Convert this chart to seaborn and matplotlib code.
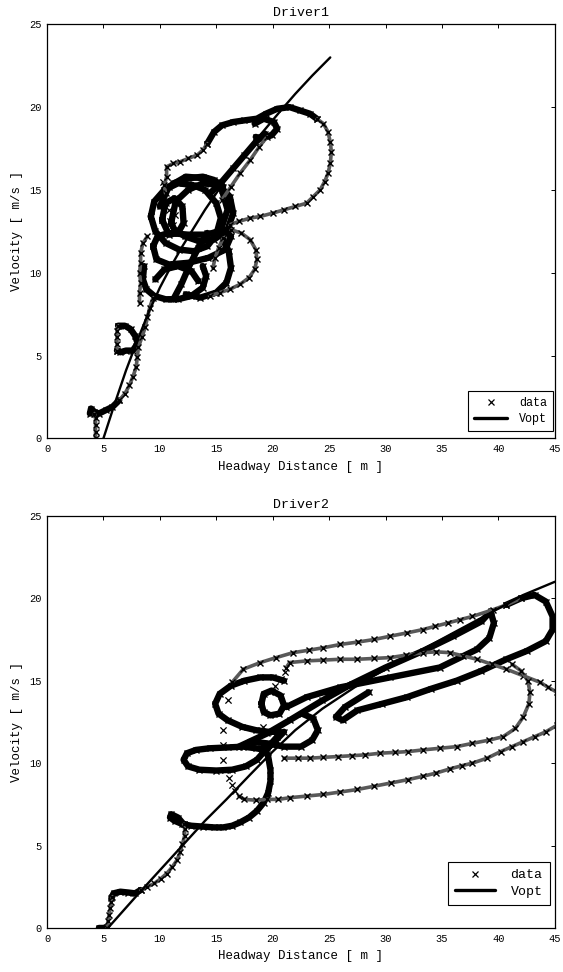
import matplotlib
matplotlib.use('Agg')
import matplotlib.pyplot as plt
import seaborn as sns
from matplotlib.lines import Line2D

# ---- Driver1 -------------------------------------------------------------
d1_vopt_x = [5.0, 6.0, 7.0, 8.0, 9.0, 10.0, 11.0, 12.0, 13.0, 14.0, 15.0, 16.0, 17.0, 18.0, 19.0, 20.6, 22.0, 23.5, 25.1]
d1_vopt_y = [0.0, 2.1, 4.1, 5.9, 7.6, 9.1, 10.4, 11.6, 12.7, 13.8, 14.8, 15.8, 16.7, 17.6, 18.4, 19.7, 20.8, 21.9, 23.0]

# slow parts of the trajectory (markers pile up into a black band)
d1_dense = [
    [(3.8, 1.5), (3.9, 1.8), (4.2, 1.6), (4.6, 1.5), (5.2, 1.7), (5.8, 1.9), (6.4, 2.3)],
    [(7.9, 5.6), (7.6, 5.3), (7.0, 5.3), (6.5, 5.2), (6.2, 5.3)],
    [(6.3, 6.8), (6.9, 6.8), (7.4, 6.6), (7.8, 6.2), (8.0, 5.8)],
    [(8.6, 10.4), (8.5, 9.6), (8.8, 9.0), (9.5, 8.6), (10.5, 8.4), (11.6, 8.4), (12.8, 8.6), (13.8, 9.1), (14.1, 9.8), (13.8, 10.4)],
    [(12.3, 8.7), (13.6, 8.5), (15.0, 8.8), (15.9, 9.4), (16.3, 10.3), (16.1, 11.3), (15.6, 12.0)],
    [(11.2, 8.4), (11.9, 9.3), (12.6, 10.4), (13.4, 11.5), (14.2, 12.4)],
    [(9.4, 11.6), (9.8, 12.2), (10.8, 12.4), (12.5, 12.3), (14.2, 12.3), (15.6, 12.6), (16.3, 12.2), (15.8, 11.4),
     (14.3, 10.9), (12.5, 10.6), (10.8, 10.5), (9.7, 10.8), (9.4, 11.6)],
    [(9.2, 13.4), (9.5, 14.3), (10.4, 15.0), (11.6, 15.4), (12.9, 15.3), (14.0, 15.0), (15.0, 14.2), (15.4, 13.3),
     (15.0, 12.3), (14.2, 11.6), (13.0, 11.3), (11.7, 11.4), (10.5, 11.8), (9.6, 12.5), (9.2, 13.4)],
    [(11.0, 13.0), (11.4, 14.3), (12.5, 15.0), (13.8, 15.4), (15.2, 15.3), (16.2, 14.6), (16.5, 13.6), (16.0, 12.6),
     (14.8, 12.0), (13.5, 11.9), (12.2, 12.2), (11.3, 12.6), (11.0, 13.0)],
    [(10.2, 13.2), (10.5, 14.2), (11.3, 14.5), (12.0, 14.0), (12.1, 13.0), (11.6, 12.4), (10.8, 12.3), (10.2, 13.2)],
    [(10.0, 14.0), (10.8, 15.2), (12.3, 15.8), (14.0, 15.7), (15.5, 15.0), (16.0, 13.8), (15.5, 12.8)],
    [(9.6, 9.6), (10.4, 10.2), (11.6, 10.4), (12.8, 10.1), (13.4, 9.5)],
    [(11.2, 15.4), (12.5, 15.7), (13.8, 15.8), (14.8, 15.6), (15.6, 15.2)],
    [(14.6, 14.9), (15.5, 15.5), (16.5, 16.3), (17.5, 17.1), (18.5, 17.9), (19.3, 18.4)],
    [(14.2, 17.8), (14.8, 18.5), (15.5, 18.9), (16.5, 19.1), (17.5, 19.2), (18.6, 19.3), (19.4, 19.6), (20.4, 19.9),
     (21.5, 20.0), (22.4, 19.8), (23.3, 19.6), (23.9, 19.3)],
    [(18.4, 19.0), (19.2, 19.3), (20.1, 19.1), (20.4, 18.7), (19.9, 18.3), (19.0, 18.1), (18.5, 18.2)],
]

# faster parts (chains of separate crosses)
d1_chain = [
    [(4.3, 0.0), (4.3, 0.4), (4.3, 0.8), (4.3, 1.2), (4.2, 1.5)],
    [(6.4, 2.3), (6.9, 2.7), (7.3, 3.2), (7.6, 3.7), (7.9, 4.3), (8.0, 4.9), (8.1, 5.5), (8.4, 6.1), (8.7, 6.7),
     (8.9, 7.3), (9.1, 7.9), (9.4, 8.5)],
    [(6.2, 5.3), (6.2, 5.7), (6.2, 6.1), (6.2, 6.5), (6.3, 6.8)],
    [(8.2, 8.2), (8.2, 8.8), (8.3, 9.4), (8.2, 10.0), (8.3, 10.6), (8.3, 11.2), (8.5, 11.8), (8.9, 12.2)],
    [(10.5, 14.8), (10.4, 15.3), (10.6, 15.8), (10.6, 16.4), (11.2, 16.6), (11.8, 16.7), (12.5, 16.9), (13.3, 17.1),
     (13.8, 17.4), (14.2, 17.8)],
    [(23.9, 19.3), (24.5, 19.0), (24.9, 18.5), (25.1, 17.9), (25.2, 17.3), (25.1, 16.6), (24.9, 16.0), (24.6, 15.5),
     (24.2, 15.0), (23.6, 14.6), (23.0, 14.2), (22.0, 14.0), (21.0, 13.8), (20.0, 13.6), (18.9, 13.4), (18.0, 13.3),
     (17.0, 13.1), (16.2, 12.9)],
    [(15.5, 14.4), (16.3, 15.2), (17.1, 16.0), (18.0, 16.8), (18.8, 17.6), (19.5, 18.2)],
    [(16.3, 12.6), (17.2, 12.4), (18.0, 12.0), (18.5, 11.4), (18.6, 10.8), (18.4, 10.2), (17.9, 9.7), (17.1, 9.3),
     (16.2, 9.0), (15.3, 8.8), (14.4, 8.6)],
    [(14.7, 10.3), (14.9, 10.9), (15.2, 11.5), (15.6, 12.1)],
]

d1_sparse = [(10.9, 13.1), (11.3, 13.5), (10.8, 13.8), (11.2, 12.9), (10.4, 14.9), (10.3, 15.5)]

# ---- Driver2 -------------------------------------------------------------
d2_vopt_x = [5.4, 8.0, 10.0, 12.0, 14.0, 15.9, 18.0, 20.0, 22.0, 24.4, 27.7, 30.0, 33.3, 36.0, 39.0, 42.2, 45.0]
d2_vopt_y = [0.0, 2.0, 3.5, 5.0, 6.5, 7.8, 9.3, 10.7, 12.0, 13.3, 14.8, 15.7, 16.9, 17.9, 19.0, 20.2, 21.0]

d2_dense = [
    [(4.6, 0.0), (5.0, 0.0), (5.3, 0.05)],
    [(5.7, 1.8), (5.9, 2.1), (6.5, 2.2), (7.2, 2.15), (7.8, 2.1), (8.3, 2.3)],
    [(12.1, 6.3), (11.6, 6.7), (11.0, 6.9), (10.9, 6.7), (11.3, 6.5), (12.0, 6.3), (12.8, 6.2), (13.8, 6.15),
     (14.8, 6.1), (15.6, 6.1), (16.4, 6.2), (17.1, 6.4), (17.9, 6.7), (18.6, 7.1), (19.2, 7.6), (19.6, 8.2),
     (19.8, 8.9), (19.8, 9.6), (19.6, 10.4), (19.2, 11.0)],
    [(21.0, 11.9), (20.3, 11.4), (19.4, 10.8), (18.5, 10.9), (17.4, 11.0), (16.0, 10.95), (14.4, 10.9), (13.2, 10.8),
     (12.4, 10.6), (12.1, 10.2), (12.5, 9.8), (13.5, 9.6), (15.0, 9.55), (16.4, 9.6), (17.6, 9.8), (18.6, 10.2),
     (19.5, 10.9), (20.4, 11.6)],
    [(21.0, 15.0), (20.0, 15.2), (18.9, 15.2), (17.5, 15.0), (16.3, 14.7), (15.3, 14.2), (14.9, 13.6), (15.2, 13.0),
     (16.0, 12.6), (17.3, 12.2), (18.5, 12.0), (19.6, 11.9), (20.6, 11.9)],
    [(19.0, 13.6), (19.2, 14.2), (19.9, 14.4), (20.7, 14.1), (21.0, 13.5), (20.6, 13.0), (19.8, 12.9), (19.2, 13.1),
     (19.0, 13.6)],
    [(18.0, 11.3), (19.5, 11.2), (21.0, 11.0), (22.5, 11.0), (23.5, 11.4), (24.0, 12.0), (23.6, 12.7), (22.6, 13.0)],
    [(17.0, 11.0), (19.5, 11.8), (21.5, 12.6), (24.4, 13.8), (27.0, 14.8), (30.0, 15.8), (33.3, 16.8), (36.0, 17.7),
     (38.5, 18.6), (39.3, 19.2), (39.6, 18.5), (39.2, 17.6), (38.1, 16.9), (34.8, 15.8), (30.4, 15.2), (26.0, 14.6),
     (23.0, 14.0), (21.2, 13.4)],
    [(40.7, 19.6), (42.0, 20.0), (43.2, 20.2), (44.2, 19.8), (44.8, 18.9), (44.8, 18.1), (44.2, 17.4), (42.5, 16.8),
     (40.7, 16.3), (38.5, 15.6), (36.3, 15.0), (34.0, 14.5), (31.9, 14.0), (29.7, 13.6), (27.5, 13.2), (26.2, 12.6),
     (25.6, 12.8), (26.4, 13.4), (28.5, 14.3)],
]

d2_chain = [
    [(5.3, 0.0), (5.4, 0.4), (5.5, 0.8), (5.6, 1.2), (5.7, 1.6), (5.8, 1.9)],
    [(8.3, 2.3), (8.9, 2.5), (9.5, 2.7), (10.1, 3.0), (10.6, 3.3), (11.1, 3.7), (11.5, 4.1), (11.8, 4.6), (12.0, 5.1),
     (12.2, 5.6), (12.2, 6.0), (12.1, 6.3)],
    [(17.0, 8.0), (17.5, 7.8), (18.5, 7.75), (19.5, 7.8), (20.5, 7.8), (21.5, 7.9), (23.0, 8.0), (24.5, 8.1),
     (26.0, 8.25), (27.5, 8.4), (29.0, 8.6), (30.5, 8.8), (32.0, 9.0), (33.3, 9.2), (34.5, 9.4), (35.7, 9.65),
     (36.8, 9.85), (37.7, 10.0), (39.0, 10.3), (40.2, 10.7), (41.2, 11.0), (42.2, 11.3), (43.2, 11.6), (44.2, 11.9),
     (45.2, 12.3), (45.8, 12.9), (45.8, 13.7), (45.2, 14.3), (44.4, 14.6), (43.7, 14.9), (42.2, 15.3), (40.7, 15.7),
     (39.4, 16.0), (38.1, 16.3), (36.9, 16.5), (35.7, 16.7), (34.5, 16.75), (33.3, 16.7), (31.8, 16.55), (30.4, 16.4),
     (29.0, 16.35), (27.5, 16.3), (26.0, 16.3), (24.5, 16.25), (23.0, 16.2), (21.5, 16.1), (21.2, 15.8)],
    [(21.0, 10.3), (22.2, 10.3), (23.3, 10.3), (24.5, 10.35), (25.8, 10.4), (27.0, 10.45), (28.2, 10.5), (29.5, 10.6),
     (30.8, 10.65), (32.0, 10.7), (33.3, 10.8), (34.8, 10.9), (36.3, 11.0), (37.7, 11.2), (39.2, 11.4), (40.4, 11.6),
     (41.5, 12.1), (42.2, 12.8), (42.7, 13.6), (42.8, 14.3), (42.6, 15.0), (42.0, 15.6), (41.2, 16.0)],
    [(16.4, 14.9), (17.4, 15.7), (18.9, 16.1), (20.3, 16.4), (21.8, 16.7), (23.2, 16.85), (24.5, 17.0), (26.0, 17.2),
     (27.6, 17.35), (29.0, 17.5), (30.4, 17.7), (31.9, 17.9), (33.3, 18.1), (34.4, 18.3), (35.5, 18.5), (36.6, 18.7),
     (37.7, 18.9), (39.5, 19.3), (40.7, 19.6), (42.0, 20.0)],
]

d2_sparse = [(15.6, 12.0), (15.6, 11.1), (15.6, 10.2), (15.8, 9.6), (16.1, 9.1), (16.4, 8.7), (16.7, 8.3),
             (16.0, 13.8), (19.1, 12.2), (19.8, 14.3), (20.2, 14.7), (20.7, 15.1), (21.1, 15.5)]

x_ticks = [0, 5, 10, 15, 20, 25, 30, 35, 40, 45]
y_ticks = [0, 5, 10, 15, 20, 25]

# Estilo
sns.set_theme(style='white')
plt.rcParams['font.family'] = ['Liberation Mono', 'DejaVu Sans Mono']
for k in ['text.color', 'axes.labelcolor', 'xtick.color', 'ytick.color']:
    plt.rcParams[k] = 'black'


def dibujar_conductor(ax, dense, chain, sparse, vopt_x, vopt_y, titulo):
    # tramos lentos: banda negra gruesa
    for seg in dense:
        xs = [p[0] for p in seg]
        ys = [p[1] for p in seg]
        sns.lineplot(x=xs, y=ys, ax=ax, sort=False, estimator=None, color='black',
                     linewidth=4.6, marker='x', markersize=5, mec='black', mew=1.0,
                     solid_joinstyle='round', solid_capstyle='round')
    # tramos rapidos: cadena de cruces
    for seg in chain:
        xs = [p[0] for p in seg]
        ys = [p[1] for p in seg]
        sns.lineplot(x=xs, y=ys, ax=ax, sort=False, estimator=None, color='0.35',
                     linewidth=2.6, marker='x', markersize=4.6, mec='black', mew=1.0)
    sns.scatterplot(x=[p[0] for p in sparse], y=[p[1] for p in sparse], ax=ax,
                    marker='x', color='black', s=20, linewidth=0.9)
    # curva de velocidad optima
    sns.lineplot(x=vopt_x, y=vopt_y, ax=ax, sort=False, estimator=None,
                 color='black', linewidth=1.7)

    ax.set_xlim(0, 45)
    ax.set_ylim(0, 25)
    ax.set_xticks(x_ticks)
    ax.set_yticks(y_ticks)
    ax.tick_params(direction='in', top=True, right=True, length=3, width=0.7,
                   labelsize=7.5, pad=4)
    for sp in ax.spines.values():
        sp.set_color('black')
        sp.set_linewidth(0.9)
    ax.set_title(titulo, fontsize=9.5, pad=6)
    ax.set_xlabel('Headway Distance [ m ]', fontsize=9, labelpad=5)
    ax.set_ylabel('Velocity [ m/s ]', fontsize=9, labelpad=4)

    handles = [Line2D([], [], marker='x', ls='none', color='black', ms=4, mew=0.9),
               Line2D([], [], color='black', lw=2.4)]
    return handles


fig = plt.figure(figsize=(5.63, 9.72), dpi=100)
ax1 = fig.add_axes([0.0835, 0.549, 0.902, 0.426])
ax2 = fig.add_axes([0.0835, 0.0453, 0.902, 0.424])

h = dibujar_conductor(ax1, d1_dense, d1_chain, d1_sparse, d1_vopt_x, d1_vopt_y, 'Driver1')
leg = ax1.legend(h, ['data', 'Vopt'], loc='lower right', bbox_to_anchor=(0.996, 0.018),
                 borderaxespad=0, fancybox=False, framealpha=1, edgecolor='black',
                 fontsize=8.5, handlelength=2.8, handletextpad=1.0, borderpad=0.5,
                 labelspacing=0.35)
leg.get_frame().set_linewidth(0.8)

h = dibujar_conductor(ax2, d2_dense, d2_chain, d2_sparse, d2_vopt_x, d2_vopt_y, 'Driver2')
leg = ax2.legend(h, ['data', 'Vopt'], loc='lower right', bbox_to_anchor=(0.99, 0.055),
                 borderaxespad=0, fancybox=False, framealpha=1, edgecolor='black',
                 fontsize=9.5, handlelength=3.0, handletextpad=1.2, borderpad=0.55,
                 labelspacing=0.35)
leg.get_frame().set_linewidth(0.8)

plt.savefig('out.png', dpi=100)
